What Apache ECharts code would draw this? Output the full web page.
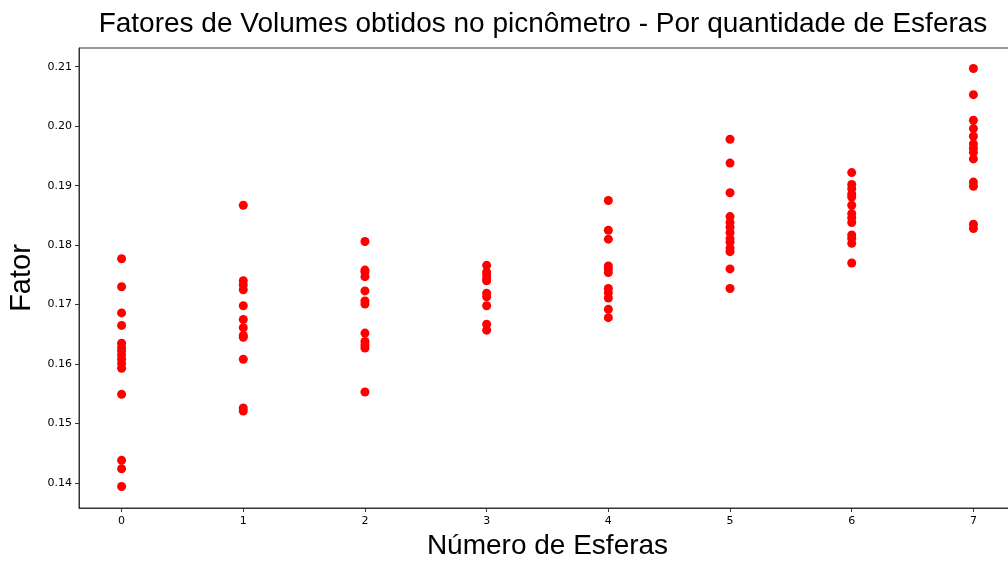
<!DOCTYPE html>
<html>
<head>
<meta charset="utf-8">
<script src="https://cdn.jsdelivr.net/npm/echarts@6/dist/echarts.min.js"></script>
<style>html,body{margin:0;padding:0;background:#fff}#c{width:1008px;height:563px}</style>
</head>
<body>
<div id="c"></div>
<script>
const titleText = "Fatores de Volumes obtidos no picnômetro - Por quantidade de Esferas";
const xName = "Número de Esferas";
const yName = "Fator";
const xTicks = [0, 1, 2, 3, 4, 5, 6, 7];
const yTicks = [0.14, 0.15, 0.16, 0.17, 0.18, 0.19, 0.20, 0.21];
const yTickLabels = ["0.14", "0.15", "0.16", "0.17", "0.18", "0.19", "0.20", "0.21"];

const esferas0 = [0.1777, 0.1730, 0.1686, 0.1665, 0.1635, 0.1628, 0.1622, 0.1615, 0.1608, 0.1601, 0.1593, 0.1549, 0.1438, 0.1424, 0.1394];
const esferas1 = [0.1867, 0.1740, 0.1733, 0.1725, 0.1698, 0.1675, 0.1661, 0.1648, 0.1645, 0.1608, 0.1526, 0.1521];
const esferas2 = [0.1806, 0.1758, 0.1755, 0.1747, 0.1723, 0.1706, 0.1701, 0.1652, 0.1638, 0.1632, 0.1627, 0.1553];
const esferas3 = [0.1766, 0.1755, 0.1750, 0.1744, 0.1740, 0.1719, 0.1713, 0.1698, 0.1667, 0.1657];
const esferas4 = [0.1875, 0.1825, 0.1810, 0.1765, 0.1760, 0.1754, 0.1727, 0.1720, 0.1711, 0.1692, 0.1678];
const esferas5 = [0.1978, 0.1938, 0.1888, 0.1848, 0.1838, 0.1830, 0.1821, 0.1811, 0.1805, 0.1795, 0.1789, 0.1760, 0.1727];
const esferas6 = [0.1922, 0.1902, 0.1895, 0.1886, 0.1881, 0.1867, 0.1853, 0.1846, 0.1838, 0.1817, 0.1811, 0.1803, 0.1770];
const esferas7 = [0.2097, 0.2053, 0.2010, 0.1996, 0.1983, 0.1970, 0.1963, 0.1956, 0.1945, 0.1906, 0.1899, 0.1835, 0.1828];

const groups = [esferas0, esferas1, esferas2, esferas3, esferas4, esferas5, esferas6, esferas7];
const points = [];
groups.forEach((g, i) => g.forEach(v => points.push([xTicks[i], v])));

const chart = echarts.init(document.getElementById('c'), null, {renderer: 'canvas'});
chart.setOption({
  animation: false,
  backgroundColor: '#ffffff',
  title: {
    text: titleText,
    left: 538, top: 5, textAlign: 'center',
    textStyle: {fontFamily: 'Liberation Sans, Arial, sans-serif', fontSize: 28, fontWeight: 'normal', color: '#000'}
  },
  grid: {left: 79, top: 48, width: 937, height: 460, outerBoundsMode: 'none', containLabel: false,
    show: true, borderColor: '#333', borderWidth: 1, backgroundColor: 'transparent'},
  xAxis: {
    type: 'value', min: -0.35, max: 7.35,
    name: xName, nameLocation: 'middle', nameGap: 24,
    nameTextStyle: {fontFamily: 'Liberation Sans, Arial, sans-serif', fontSize: 28, color: '#000'},
    splitLine: {show: false},
    axisLine: {show: true, onZero: false, lineStyle: {color: '#333', width: 1}},
    axisTick: {show: true, inside: false, length: 4, lineStyle: {color: '#333'}, customValues: xTicks},
    axisLabel: {fontFamily: 'DejaVu Sans, sans-serif', fontSize: 11, color: '#000', margin: 8, customValues: xTicks}
  },
  yAxis: {
    type: 'value', min: 0.13579, max: 0.21315,
    name: yName, nameLocation: 'middle', nameGap: 43, nameRotate: 90,
    nameTextStyle: {fontFamily: 'Liberation Sans, Arial, sans-serif', fontSize: 29, color: '#000'},
    splitLine: {show: false},
    axisLine: {show: true, onZero: false, lineStyle: {color: '#333', width: 1}},
    axisTick: {show: true, inside: false, length: 4, lineStyle: {color: '#333'}, customValues: yTicks},
    axisLabel: {fontFamily: 'DejaVu Sans, sans-serif', fontSize: 11, color: '#000', margin: 7, customValues: yTicks,
      formatter: v => { const i = yTicks.findIndex(t => Math.abs(t - v) < 1e-9); return i >= 0 ? yTickLabels[i] : ''; }}
  },
  series: [{
    type: 'scatter', data: points, symbol: 'circle', symbolSize: 9,
    itemStyle: {color: '#ff0000', opacity: 1}
  }]
});
</script>
</body>
</html>
